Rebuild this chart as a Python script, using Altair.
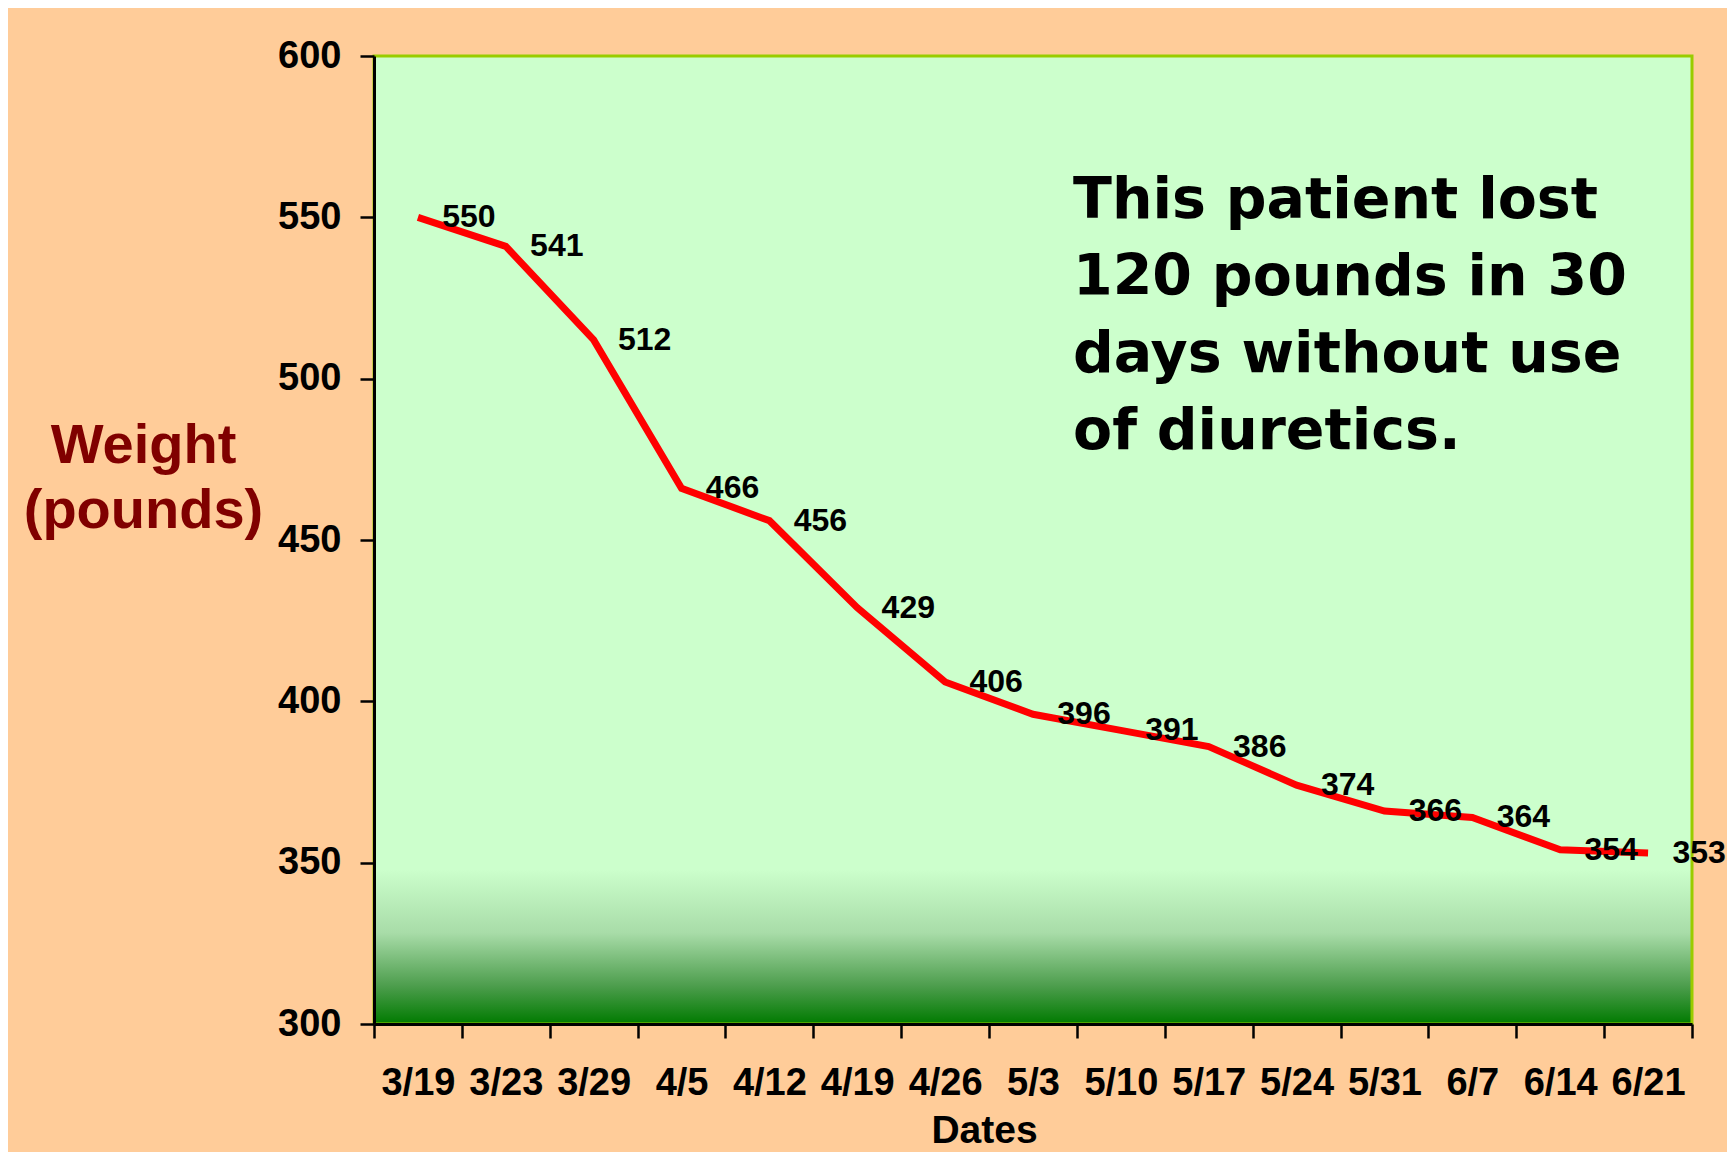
import altair as alt
import pandas as pd

dates = ["3/19", "3/23", "3/29", "4/5", "4/12", "4/19", "4/26", "5/3",
         "5/10", "5/17", "5/24", "5/31", "6/7", "6/14", "6/21"]
weights = [550, 541, 512, 466, 456, 429, 406, 396, 391, 386, 374, 366, 364, 354, 353]
y_ticks = [300, 350, 400, 450, 500, 550, 600]
note_lines = ["This patient lost", "120 pounds in 30", "days without use", "of diuretics."]
y_title = ["Weight", "(pounds)"]
x_title = "Dates"

W, H = 1318, 968
FONT = "Liberation Sans, Arial, sans-serif"

df = pd.DataFrame({"date": dates, "weight": weights})
bg_df = pd.DataFrame({"k": [0]})
note_df = pd.DataFrame({"note": [note_lines]})

x_enc = alt.X(
    "date:N",
    sort=dates,
    scale=alt.Scale(type="band", paddingInner=0, paddingOuter=0),
    axis=alt.Axis(
        title=x_title,
        labelAngle=0,
        tickBand="extent",
        tickSize=14,
        tickWidth=2.5,
        tickColor="black",
        domainColor="black",
        domainWidth=3,
        labelFont=FONT,
        labelFontSize=38,
        labelFontWeight="bold",
        labelColor="black",
        labelPadding=26,
        labelOverlap=False,
        titleFont=FONT,
        titleFontSize=39,
        titleFontWeight="bold",
        titleColor="black",
        titleX=610,
        titleY=118,
        titleAlign="center",
        titleBaseline="alphabetic",
        zindex=1,
    ),
)

y_enc = alt.Y(
    "weight:Q",
    scale=alt.Scale(domain=[300, 600], nice=False, zero=False),
    axis=alt.Axis(
        values=y_ticks,
        grid=False,
        tickSize=14,
        tickWidth=2.5,
        tickColor="black",
        domainColor="black",
        domainWidth=3,
        labelFont=FONT,
        labelFontSize=38,
        labelFontWeight="bold",
        labelColor="black",
        labelPadding=19,
        title=y_title,
        titleAngle=0,
        titleX=-231,
        titleY=406,
        titleAlign="center",
        titleBaseline="alphabetic",
        titleLineHeight=65,
        titleFont=FONT,
        titleFontSize=56,
        titleFontWeight="bold",
        titleColor="#800000",
        zindex=1,
    ),
)

gradient = alt.Gradient(
    gradient="linear",
    x1=0, x2=0, y1=0, y2=1,
    stops=[
        alt.GradientStop(offset=0, color="#CCFFCC"),
        alt.GradientStop(offset=0.84, color="#CCFFCC"),
        alt.GradientStop(offset=0.906, color="#A8DCA8"),
        alt.GradientStop(offset=0.96, color="#4E9E4E"),
        alt.GradientStop(offset=1, color="#007A00"),
    ],
)

background = alt.Chart(bg_df).mark_rect(
    fill=gradient, stroke="#99CC00", strokeWidth=3
).encode(
    x=alt.value(0), x2=alt.value(W), y=alt.value(0), y2=alt.value(H)
)

line = alt.Chart(df).mark_line(color="#FF0000", strokeWidth=7).encode(
    x=x_enc, y=y_enc
)

labels = alt.Chart(df).mark_text(
    dx=51, align="center", baseline="middle",
    font=FONT, fontSize=32, fontWeight="bold", color="black"
).encode(
    x=alt.X("date:N", sort=dates),
    y=alt.Y("weight:Q"),
    text=alt.Text("weight:Q"),
)

note = alt.Chart(note_df).mark_text(
    align="left", baseline="alphabetic", lineHeight=77,
    font="DejaVu Sans", fontSize=57, fontWeight="bold", color="black"
).encode(
    x=alt.value(699), y=alt.value(162), text="note"
)

chart = alt.layer(background, line, labels, note).properties(
    width=W,
    height=H,
    background="#FFCC99",
    autosize=alt.AutoSizeParams(type="none"),
    padding={"left": 366, "top": 48, "right": 35, "bottom": 128},
).configure_view(stroke=None)

chart.save("out.html", embed_options={"renderer": "svg", "actions": False})
